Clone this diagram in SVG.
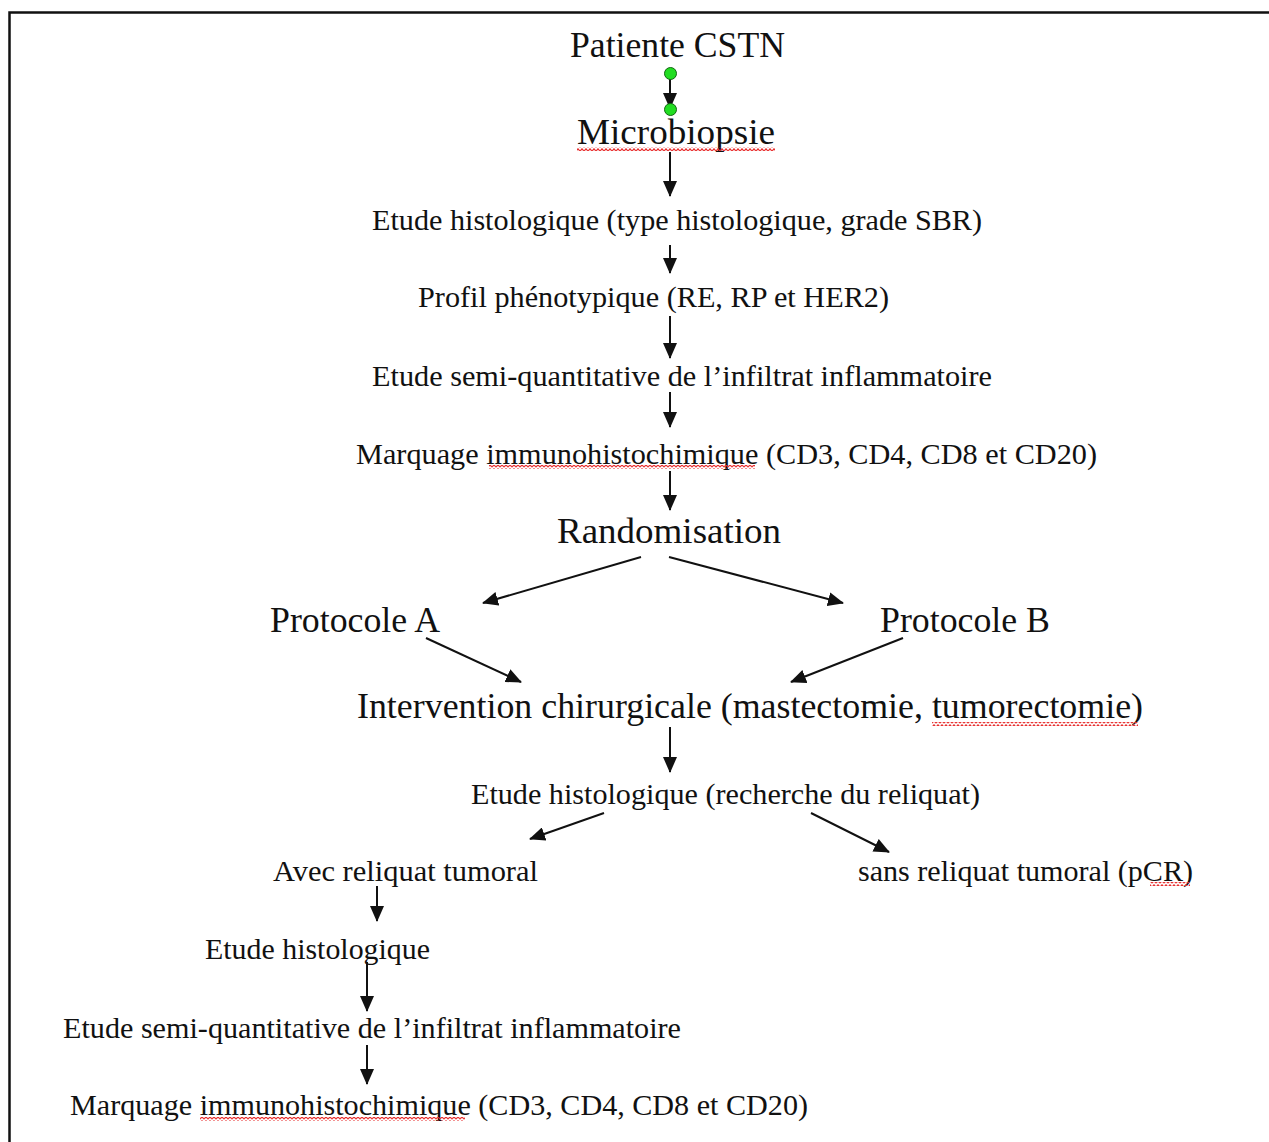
<svg xmlns="http://www.w3.org/2000/svg" width="1269" height="1142" viewBox="0 0 1269 1142">
<style>
text{font-family:"Liberation Serif","Times New Roman",serif;fill:#111;}
.s{font-size:30px;}
.l{font-size:35px;}
.c{stroke:#111;stroke-width:2;fill:none;marker-end:url(#ah);}
</style>
<defs>
<marker id="ah" markerUnits="userSpaceOnUse" markerWidth="16" markerHeight="14" refX="15" refY="7" orient="auto">
<path d="M0,0 L16,7 L0,14 Z" fill="#111"/>
</marker>
<pattern id="wave" x="0" y="0" width="4" height="4" patternUnits="userSpaceOnUse">
<path d="M0,3.2 L2,0.8 L4,3.2" stroke="#e83030" stroke-width="1.2" fill="none"/>
</pattern>
</defs>
<rect width="1269" height="1142" fill="#fff"/>
<path d="M9.5,1142 V12.5 H1269" fill="none" stroke="#111" stroke-width="2.5"/>

<g id="connectors">
<line class="c" x1="670" y1="74" x2="670" y2="108"/>
<line class="c" x1="670" y1="152" x2="670" y2="196"/>
<line class="c" x1="670" y1="245" x2="670" y2="273"/>
<line class="c" x1="670" y1="316" x2="670" y2="358"/>
<line class="c" x1="670" y1="392" x2="670" y2="427"/>
<line class="c" x1="670" y1="471" x2="670" y2="510"/>
<line class="c" x1="641" y1="557" x2="483" y2="603"/>
<line class="c" x1="669" y1="557" x2="843" y2="603"/>
<line class="c" x1="426" y1="638" x2="521" y2="682"/>
<line class="c" x1="903" y1="638" x2="791" y2="682"/>
<line class="c" x1="670" y1="727" x2="670" y2="772"/>
<line class="c" x1="604" y1="813" x2="530" y2="839"/>
<line class="c" x1="811" y1="813" x2="889" y2="852"/>
<line class="c" x1="377" y1="886" x2="377" y2="921"/>
<line class="c" x1="367" y1="962" x2="367" y2="1011"/>
<line class="c" x1="367" y1="1045" x2="367" y2="1084"/>
<circle cx="670.5" cy="73.5" r="6" fill="#22dd22" stroke="#116611" stroke-width="1"/>
<circle cx="670.5" cy="109.5" r="6" fill="#22dd22" stroke="#116611" stroke-width="1"/>
</g>

<g id="n1"><text class="l" x="570" y="57" textLength="215" lengthAdjust="spacingAndGlyphs">Patiente CSTN</text></g>
<g id="n2"><text class="l" x="577" y="144" textLength="198" lengthAdjust="spacingAndGlyphs">Microbiopsie</text>
<rect x="577" y="147" width="198" height="4" fill="url(#wave)"/></g>
<g id="n3"><text class="s" x="372" y="230" textLength="610" lengthAdjust="spacingAndGlyphs">Etude histologique  (type histologique,  grade SBR)</text></g>
<g id="n4"><text class="s" x="418" y="307" textLength="471" lengthAdjust="spacingAndGlyphs">Profil phénotypique (RE, RP et HER2)</text></g>
<g id="n5"><text class="s" x="372" y="386" textLength="620" lengthAdjust="spacingAndGlyphs">Etude semi-quantitative  de l’infiltrat inflammatoire</text></g>
<g id="n6"><text class="s" x="356" y="464" textLength="741" lengthAdjust="spacingAndGlyphs">Marquage  immunohistochimique  (CD3,  CD4,  CD8  et CD20)</text>
<rect x="489" y="465" width="266" height="4" fill="url(#wave)"/></g>
<g id="n7"><text class="l" x="557" y="543" textLength="224" lengthAdjust="spacingAndGlyphs">Randomisation</text></g>
<g id="n8"><text class="l" x="270" y="632" textLength="170" lengthAdjust="spacingAndGlyphs">Protocole A</text></g>
<g id="n9"><text class="l" x="880" y="632" textLength="170" lengthAdjust="spacingAndGlyphs">Protocole B</text></g>
<g id="n10"><text class="l" x="357" y="718" textLength="786" lengthAdjust="spacingAndGlyphs">Intervention chirurgicale (mastectomie, tumorectomie)</text>
<rect x="932" y="722" width="206" height="4" fill="url(#wave)"/></g>
<g id="n11"><text class="s" x="471" y="804" textLength="509" lengthAdjust="spacingAndGlyphs">Etude histologique (recherche du reliquat)</text></g>
<g id="n12"><text class="s" x="273" y="881" textLength="265" lengthAdjust="spacingAndGlyphs">Avec reliquat tumoral</text></g>
<g id="n13"><text class="s" x="858" y="881" textLength="335" lengthAdjust="spacingAndGlyphs">sans reliquat tumoral (pCR)</text>
<rect x="1150" y="882" width="40" height="4" fill="url(#wave)"/></g>
<g id="n14"><text class="s" x="205" y="959" textLength="225" lengthAdjust="spacingAndGlyphs">Etude histologique</text></g>
<g id="n15"><text class="s" x="63" y="1038" textLength="618" lengthAdjust="spacingAndGlyphs">Etude semi-quantitative  de l’infiltrat inflammatoire</text></g>
<g id="n16"><text class="s" x="70" y="1115" textLength="738" lengthAdjust="spacingAndGlyphs">Marquage  immunohistochimique  (CD3,  CD4,  CD8  et CD20)</text>
<rect x="200" y="1117" width="265" height="4" fill="url(#wave)"/></g>
</svg>
